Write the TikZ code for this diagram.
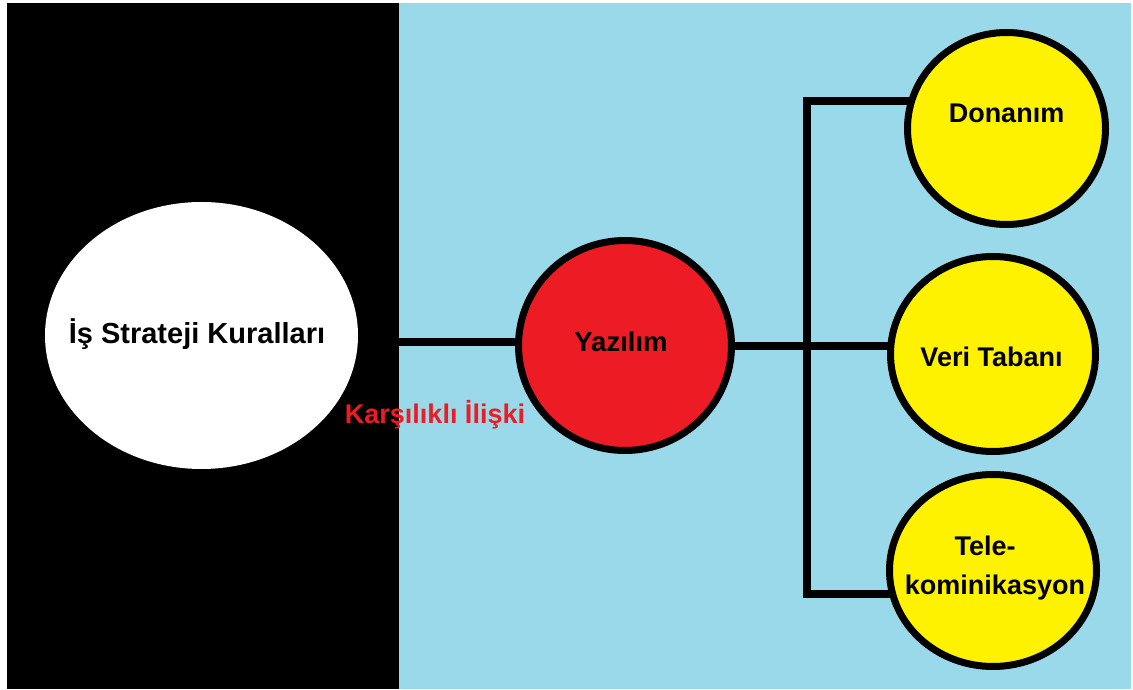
\documentclass[tikz,border=0pt]{standalone}
\usepackage{fontspec}
\setmainfont{Liberation Sans}
\usetikzlibrary{shapes.geometric}
\definecolor{paintblue}{HTML}{99D9EA}
\definecolor{paintred}{HTML}{ED1C24}
\definecolor{paintyellow}{HTML}{FFF200}
\pgfdeclarelayer{bg}
\pgfdeclarelayer{conn}
\pgfsetlayers{bg,conn,main}
\tikzset{
  bubble/.style={ellipse, draw=black, line width=7pt, inner sep=0pt, outer sep=0pt},
  yellowbubble/.style={bubble, fill=paintyellow},
  lbl/.style={font=\bfseries\fontsize{27}{39}\selectfont, text=black, inner sep=0pt, anchor=base},
  wire/.style={line width=8pt, draw=black, line join=miter, line cap=butt}
}
\begin{document}
\begin{tikzpicture}[x=1pt,y=1pt]
\useasboundingbox (0,0) rectangle (1133,689);
\begin{pgfonlayer}{bg}
  \fill[white] (0,0) rectangle (1133,689);
  \fill[black] (7,0) rectangle (399,686);
  \fill[paintblue] (399,0) rectangle (1131,686);
\end{pgfonlayer}

% nodes
\node[ellipse, fill=white, inner sep=0pt, minimum width=313pt, minimum height=267pt] (rules) at (201.5,353.5) {};
\node[bubble, fill=paintred, minimum width=213pt, minimum height=210pt] (yaz) at (625,343.5) {};
\node[yellowbubble, minimum width=198pt, minimum height=192pt] (don) at (1006.5,560.5) {};
\node[yellowbubble, minimum width=205pt, minimum height=195pt] (veri) at (993,335) {};
\node[yellowbubble, minimum width=207pt, minimum height=192pt] (tel) at (993,118.5) {};

% texts
\node[lbl, font=\bfseries\fontsize{29}{39}\selectfont] (rules-t) at (197,345) {İş Strateji Kuralları};
\node[lbl, text=paintred] (rel-t) at (435,265) {Karşılıklı İlişki};
\node[lbl, font=\bfseries\fontsize{27.5}{39}\selectfont] (yaz-t) at (621,337) {Yazılım};
\node[lbl] (don-t) at (1006.5,566) {Donanım};
\node[lbl] (veri-t) at (991.5,322) {Veri Tabanı};
\node[lbl] (tel-t1) at (985,134) {Tele-};
\node[lbl] (tel-t2) at (995,95) {kominikasyon};

% connector points
\coordinate (L0) at (399,346.5);
\coordinate (T) at (806.5,588);
\coordinate (M) at (806.5,342.5);
\coordinate (B) at (806.5,95.5);

\begin{pgfonlayer}{conn}
  \draw[wire] (L0) -- (L0 -| yaz.center);
  \draw[wire] (yaz.center |- M) -- (M) -- (M -| veri.center);
  \draw[wire] (T -| don.center) -- (T) -- (B) -- (B -| tel.center);
\end{pgfonlayer}
\end{tikzpicture}
\end{document}
